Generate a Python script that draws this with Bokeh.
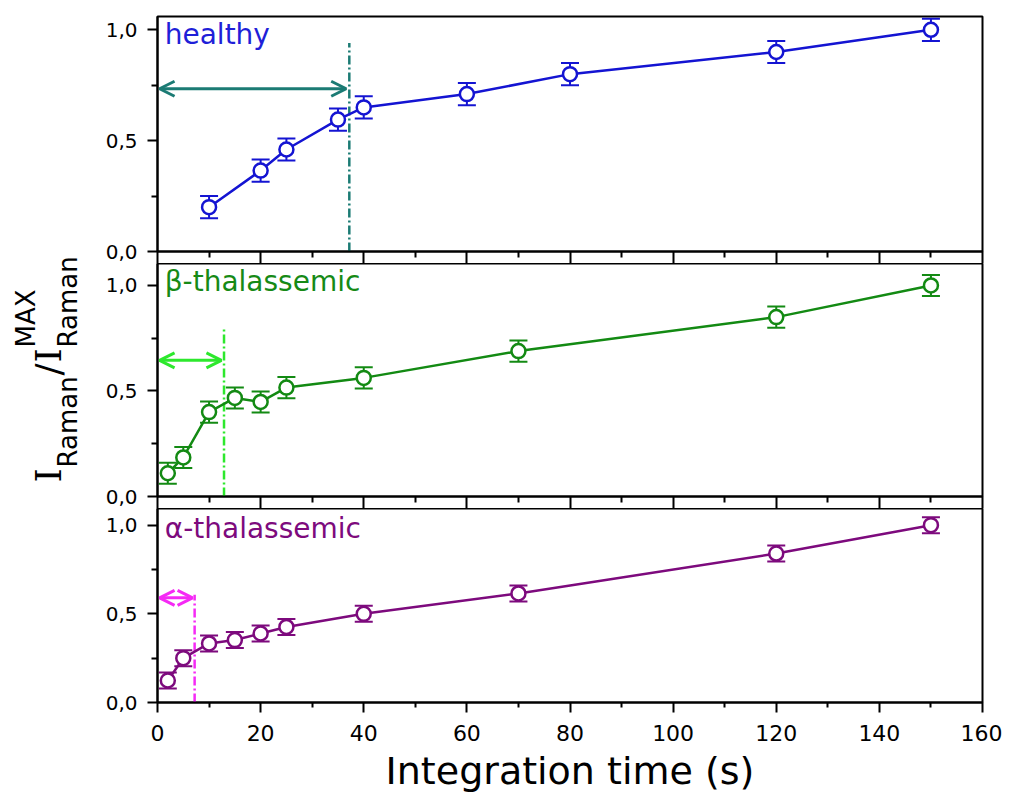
from math import pi

from bokeh.plotting import figure
from bokeh.models import (ColumnDataSource, Range1d, FixedTicker, Whisker, TeeHead,
                          Arrow, OpenHead, Label, CustomJSTickFormatter)
from bokeh.layouts import row, column
from bokeh.embed import file_html
from bokeh.resources import INLINE

# integration time (s) vs normalised Raman intensity
healthy_t = [10, 20, 25, 35, 40, 60, 80, 120, 150]
healthy_i = [0.20, 0.365, 0.46, 0.595, 0.65, 0.71, 0.80, 0.90, 1.00]
healthy_err = [0.05, 0.05, 0.05, 0.05, 0.05, 0.05, 0.05, 0.05, 0.05]

beta_t = [2, 5, 10, 15, 20, 25, 40, 70, 120, 150]
beta_i = [0.11, 0.185, 0.40, 0.467, 0.448, 0.516, 0.562, 0.689, 0.85, 1.00]
beta_err = [0.05, 0.05, 0.05, 0.05, 0.05, 0.05, 0.05, 0.05, 0.05, 0.05]

alpha_t = [2, 5, 10, 15, 20, 25, 40, 70, 120, 150]
alpha_i = [0.124, 0.25, 0.333, 0.352, 0.389, 0.426, 0.50, 0.615, 0.84, 1.00]
alpha_err = [0.045, 0.045, 0.045, 0.045, 0.045, 0.045, 0.045, 0.045, 0.045, 0.045]

# saturation time (dash-dot line) and the arrow that marks it
healthy_cut, healthy_cut_top, healthy_arrow_y, healthy_arrow_end = 37.2, 0.94, 0.734, 36.6
beta_cut, beta_cut_top, beta_arrow_y, beta_arrow_end = 12.9, 0.80, 0.645, 12.4
alpha_cut, alpha_cut_top, alpha_arrow_y, alpha_arrow_end = 7.2, 0.607, 0.59, 6.8

x_ticks = [0, 20, 40, 60, 80, 100, 120, 140, 160]
x_minor = [10, 30, 50, 70, 90, 110, 130, 150]
y_ticks = [0.0, 0.5, 1.0]
y_minor = [0.25, 0.75]

FONT = "DejaVu Sans"
x_range = Range1d(0, 160)


def make_panel(t, yv, err, color, accent, name, name_color, name_y,
               cut, cut_top, arrow_y, arrow_end, y_top, height, b_top, b_bottom, last=False):
    p = figure(width=914, height=height, x_range=x_range, y_range=Range1d(0, y_top),
               output_backend="svg", toolbar_location=None,
               min_border_left=69, min_border_right=20,
               min_border_top=b_top, min_border_bottom=b_bottom)
    p.xgrid.visible = False
    p.ygrid.visible = False
    p.outline_line_color = "black"
    p.outline_line_width = 2
    p.background_fill_color = "white"
    p.border_fill_color = "white"

    yax = p.yaxis[0]
    yax.ticker = FixedTicker(ticks=y_ticks, minor_ticks=y_minor)
    yax.formatter = CustomJSTickFormatter(code="return tick.toFixed(1).replace('.', ',')")
    yax.major_label_text_font = FONT
    yax.major_label_text_font_size = "20px"
    yax.major_label_text_color = "black"
    yax.major_label_standoff = 10
    yax.major_tick_out = 10
    yax.major_tick_in = 0
    yax.minor_tick_out = 6
    yax.minor_tick_in = 0
    yax.axis_line_width = 2
    yax.major_tick_line_width = 2
    yax.minor_tick_line_width = 2

    xax = p.xaxis[0]
    xax.ticker = FixedTicker(ticks=x_ticks, minor_ticks=x_minor)
    xax.major_tick_in = 0
    xax.minor_tick_in = 0
    xax.axis_line_width = 2
    xax.major_tick_line_width = 2
    xax.minor_tick_line_width = 2
    if last:
        xax.major_tick_out = 10
        xax.minor_tick_out = 5
        xax.major_label_text_font = FONT
        xax.major_label_text_font_size = "22px"
        xax.major_label_text_color = "black"
        xax.major_label_standoff = 12
        xax.axis_label = "Integration time (s)"
        xax.axis_label_text_font = FONT
        xax.axis_label_text_font_size = "38px"
        xax.axis_label_text_font_style = "normal"
        xax.axis_label_text_color = "black"
        xax.axis_label_standoff = 5
    else:
        # ticks only, they fill the gap to the next panel
        xax.major_tick_out = 12
        xax.minor_tick_out = 6
        xax.formatter = CustomJSTickFormatter(code="return ''")
        xax.major_label_text_font_size = "0px"
        xax.major_label_standoff = 0

    src = ColumnDataSource(data=dict(
        t=t, y=yv,
        upper=[a + b for a, b in zip(yv, err)],
        lower=[a - b for a, b in zip(yv, err)],
    ))

    # saturation marker
    p.segment(x0=[cut], y0=[0], x1=[cut], y1=[cut_top], line_color=accent,
              line_width=2.5, line_dash="9 3 2 3")
    p.add_layout(Arrow(x_start=0.4, y_start=arrow_y, x_end=arrow_end, y_end=arrow_y,
                       line_color=accent, line_width=3,
                       start=OpenHead(size=15, line_color=accent, line_width=3),
                       end=OpenHead(size=15, line_color=accent, line_width=3)))

    p.add_layout(Whisker(source=src, base="t", upper="upper", lower="lower",
                         line_color=color, line_width=2, level="underlay",
                         upper_head=TeeHead(size=18, line_color=color, line_width=2),
                         lower_head=TeeHead(size=18, line_color=color, line_width=2)))
    p.line("t", "y", source=src, line_color=color, line_width=2.5)
    p.scatter("t", "y", source=src, marker="circle", size=14, fill_color="white",
              line_color=color, line_width=2.5)

    p.add_layout(Label(x=1.4, y=name_y, text=name, text_color=name_color,
                       text_font=FONT, text_font_size="28px"))
    return p


p1 = make_panel(healthy_t, healthy_i, healthy_err, "#1414d2", "#1b7b74", "healthy", "#1f1fd8",
                0.905, healthy_cut, healthy_cut_top, healthy_arrow_y, healthy_arrow_end,
                1.06, 263, 16, 12)
p2 = make_panel(beta_t, beta_i, beta_err, "#138a13", "#2de82d", "β-thalassemic", "#168a16",
                0.94, beta_cut, beta_cut_top, beta_arrow_y, beta_arrow_end,
                1.104, 245, 0, 12)
p3 = make_panel(alpha_t, alpha_i, alpha_err, "#7d0a7d", "#f52af5", "α-thalassemic", "#7d0a7d",
                0.89, alpha_cut, alpha_cut_top, alpha_arrow_y, alpha_arrow_end,
                1.094, 287, 0, 90, last=True)

# shared y-axis title: I_Raman / I^MAX_Raman, drawn piece by piece, rotated
lab = figure(width=88, height=795, x_range=Range1d(0, 88), y_range=Range1d(795, 0),
             output_backend="svg", toolbar_location=None, min_border=0)
lab.axis.visible = False
lab.grid.visible = False
lab.outline_line_color = None

pieces = [
    ("I", 48, 482, "DejaVu Serif", "36px"),
    ("Raman", 67, 467, FONT, "26px"),
    ("/", 48, 375, FONT, "36px"),
    ("I", 48, 362, "DejaVu Serif", "36px"),
    ("MAX", 25, 347, FONT, "26px"),
    ("Raman", 67, 347, FONT, "26px"),
]
for txt, px, py, fnt, fs in pieces:
    lab.add_layout(Label(x=px, y=py, text=txt, angle=pi / 2, text_font=fnt,
                         text_font_size=fs, text_color="black",
                         text_align="left", text_baseline="alphabetic"))

layout = row(lab, column(p1, p2, p3))
open("out.html", "w").write(file_html(layout, INLINE))
